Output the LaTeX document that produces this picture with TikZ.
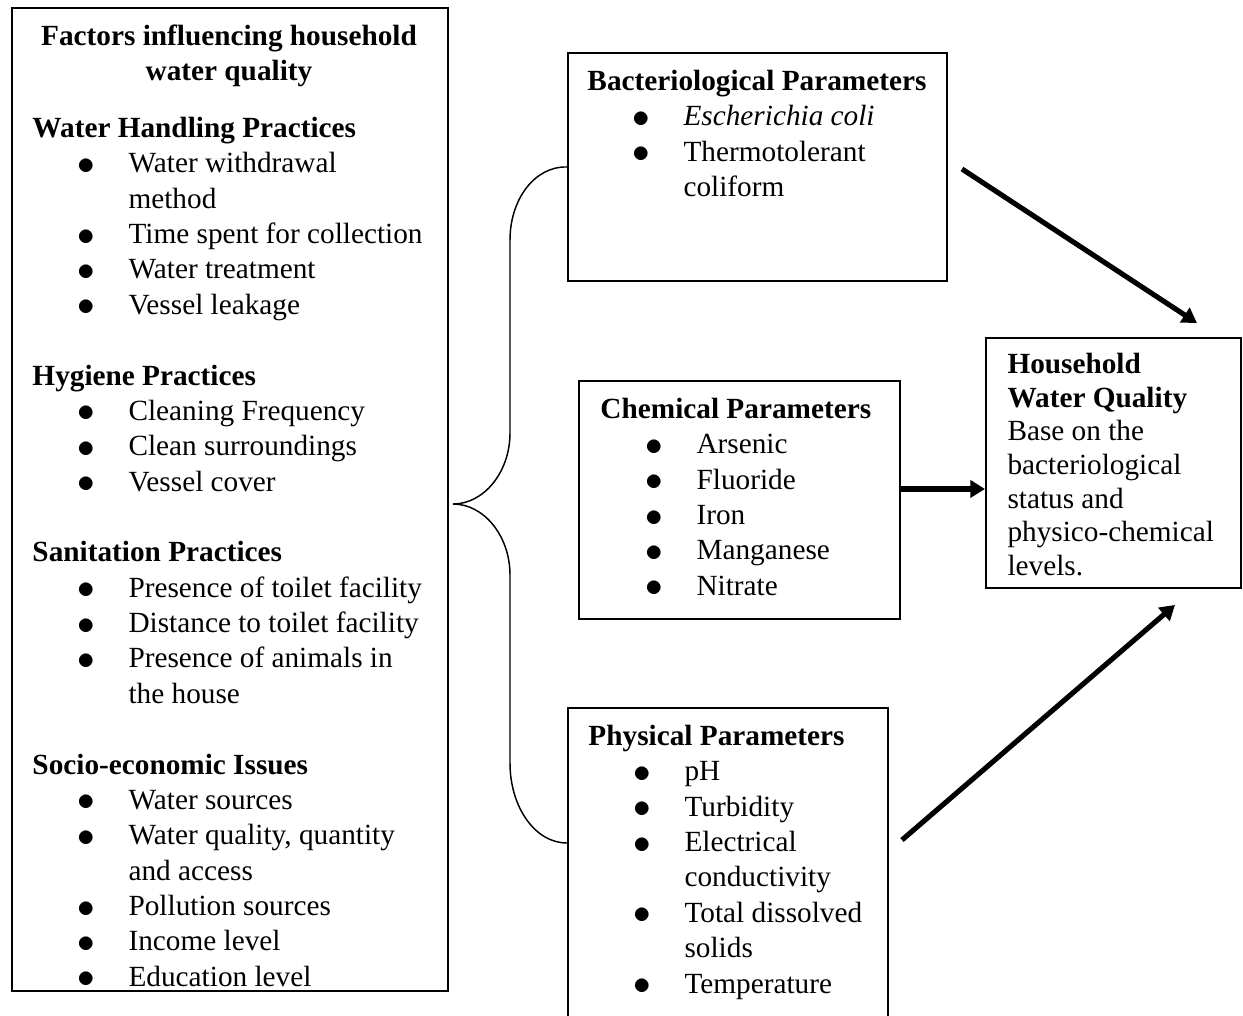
\documentclass[tikz,border=0pt]{standalone}
\usepackage{fontspec}
\setmainfont{Liberation Serif}
\usetikzlibrary{arrows.meta,calc}
\newcommand\pix{0.41pt}
\newcommand\itm{\hspace*{20.1pt}\makebox[4pt][c]{\raisebox{-0.6pt}{\fontsize{14.5}{14.5}\selectfont$\bullet$}}\hspace*{15.3pt}}
\newcommand\cont{\hspace*{39.4pt}}
\begin{document}
\begin{tikzpicture}[x=0.41pt,y=-0.41pt,
    box/.style={draw,line width=0.8pt,rectangle,inner sep=0pt,anchor=north west},
    txt/.style={inner sep=0pt,align=left,anchor=north west,font=\fontsize{12}{14.5}\selectfont},
    flow/.style={line width=2.1pt,-{Triangle[length=6pt,width=7pt]}}]
  \useasboundingbox (0,0) rectangle (1243,1015);
  \clip (0,0) rectangle (1243,1015);
          % boxes
          \node[box,minimum width={436*\pix},minimum height={983*\pix}] (factors) at (11,7) {};
          \node[box,minimum width={379*\pix},minimum height={228*\pix}] (bact) at (567,52) {};
          \node[box,minimum width={321*\pix},minimum height={238*\pix}] (chem) at (578,380) {};
          \node[box,minimum width={320*\pix},minimum height={340*\pix}] (phys) at (567,707) {};
          \node[box,minimum width={255*\pix},minimum height={250*\pix}] (hh) at (985,337) {};
          % left box
          \node[txt,align=center,anchor=north] (factorstitle) at (229,20.25)
            {\strut\textbf{Factors influencing household}\\\textbf{water quality}};
          \node[txt] (factorslist) at (32,112.25) {\strut\textbf{Water Handling Practices}\\
            \itm Water withdrawal\\\cont method\\
            \itm Time spent for collection\\
            \itm Water treatment\\
            \itm Vessel leakage\\[14.5pt]
            \textbf{Hygiene Practices}\\
            \itm Cleaning Frequency\\
            \itm Clean surroundings\\
            \itm Vessel cover\\[14.5pt]
            \textbf{Sanitation Practices}\\
            \itm Presence of toilet facility\\
            \itm Distance to toilet facility\\
            \itm Presence of animals in\\\cont the house\\[14.5pt]
            \textbf{Socio-economic Issues}\\
            \itm Water sources\\
            \itm Water quality, quantity\\\cont and access\\
            \itm Pollution sources\\
            \itm Income level\\
            \itm Education level};
          % parameter boxes
          \node[txt] (bacttxt) at (587,65.25) {\strut\textbf{Bacteriological Parameters}\\
            \itm \textit{Escherichia coli}\\
            \itm Thermotolerant\\\cont coliform};
          \node[txt] (chemtxt) at (600,393.25) {\strut\textbf{Chemical Parameters}\\
            \itm Arsenic\\\itm Fluoride\\\itm Iron\\\itm Manganese\\\itm Nitrate};
          \node[txt] (phystxt) at (588,720.25) {\strut\textbf{Physical Parameters}\\
            \itm pH\\\itm Turbidity\\\itm Electrical\\\cont conductivity\\
            \itm Total dissolved\\\cont solids\\\itm Temperature};
          \node[txt,font=\fontsize{12}{13.8}\selectfont] (hhtxt) at (1007,349.4)
            {\strut\textbf{Household}\\\textbf{Water Quality}\\Base on the\\bacteriological\\status and\\physico-chemical\\levels.};
          % brace
          \draw[line width=0.6pt] (bact.west) .. controls (535,166) and (510,199) .. (510,240)
            -- (510,433) .. controls (510,472) and (484,504) .. (453,504)
            .. controls (484,504) and (510,536) .. (510,575)
            -- (510,763) .. controls (510,807) and (535,843) .. ($(phys.north west)+(0,136)$);
          % arrows
          \coordinate (c2) at ($(chem.east)+(0,-11)$);
          \draw[flow] ($(bact.east)+(14,2)$) -- ($(hh.north east)+(-45,-14)$);
          \draw[flow] (c2) -- (c2 -| hh.west);
          \draw[flow] ($(phys.north east)+(13,133)$) -- ($(hh.south east)+(-67,16)$);
\end{tikzpicture}
\end{document}
